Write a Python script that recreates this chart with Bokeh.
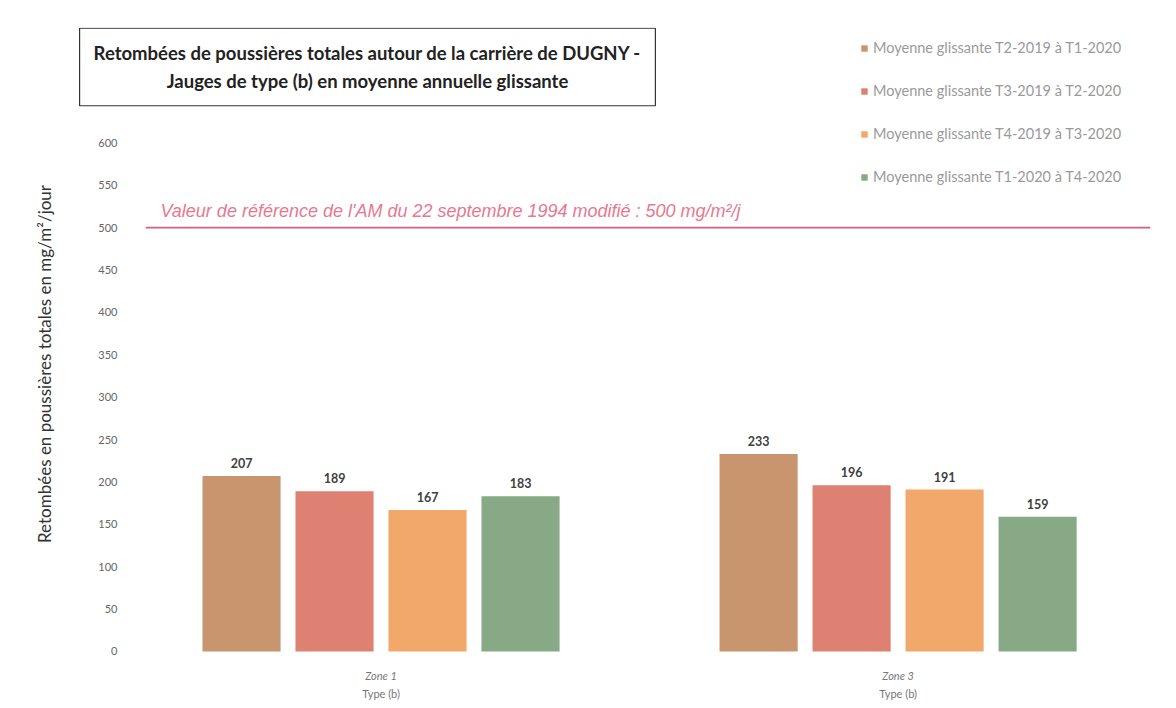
from bokeh.plotting import figure
from bokeh.models import Range1d, FixedTicker, Label, Legend, LegendItem
from bokeh.core.properties import value
from bokeh.embed import file_html
from bokeh.resources import INLINE

# ---- data ----
zones = ["Zone 1", "Zone 3"]
zone_types = ["Type (b)", "Type (b)"]
series = [
    "Moyenne glissante T2-2019 à T1-2020",
    "Moyenne glissante T3-2019 à T2-2020",
    "Moyenne glissante T4-2019 à T3-2020",
    "Moyenne glissante T1-2020 à T4-2020",
]
zone1_values = [207, 189, 167, 183]
zone3_values = [233, 196, 191, 159]
ref_value = 500
ref_text = "Valeur de référence de l'AM du 22 septembre 1994 modifié : 500 mg/m²/j"
y_ticks = [0, 50, 100, 150, 200, 250, 300, 350, 400, 450, 500, 550, 600]
title_text = ("Retombées de poussières totales autour de la carrière de DUGNY -\n"
              "Jauges de type (b) en moyenne annuelle glissante")
y_label = "Retombées en poussières totales en mg/m²/jour"

colors = ["#C9956F", "#DF8172", "#F1A86A", "#88A986"]

# ---- layout helpers (slot positions along a numeric x scale) ----
group_step = len(series) + 1.56
values_by_zone = [zone1_values, zone3_values]
zone_centers = [zi * group_step + (len(series) - 1) / 2 for zi in range(len(zones))]

p = figure(
    width=1168, height=704,
    x_range=Range1d(-1.796, 9.774),
    y_range=Range1d(-57.8, 736),
    output_backend="svg", toolbar_location=None, tools="",
    x_axis_location=None,
    min_border_left=74, min_border_right=18, min_border_top=27, min_border_bottom=4,
)
p.outline_line_color = None
p.grid.visible = False
p.background_fill_color = "white"
p.border_fill_color = "white"

# y axis
ax = p.yaxis[0]
ax.ticker = FixedTicker(ticks=y_ticks)
ax.axis_line_color = None
ax.major_tick_line_color = None
ax.minor_tick_line_color = None
ax.major_label_text_font = "Lato"
ax.major_label_text_font_size = "11px"
ax.major_label_text_color = "#666666"
ax.major_label_standoff = -49
ax.axis_label = y_label
ax.axis_label_text_font = "Lato"
ax.axis_label_text_font_style = "normal"
ax.axis_label_text_font_size = "17px"
ax.axis_label_text_color = "#333333"
ax.axis_label_standoff = 40

# bars
items = []
all_x, all_v = [], []
for i, s in enumerate(series):
    xs = [zi * group_step + i for zi in range(len(zones))]
    tops = [vals[i] for vals in values_by_zone]
    r = p.vbar(x=xs, top=tops, width=0.84, bottom=0, fill_color=colors[i], line_color=None)
    items.append(LegendItem(label=s, renderers=[r]))
    all_x += xs
    all_v += tops

# value labels
p.text(x=all_x, y=all_v, text=[str(v) for v in all_v],
       y_offset=-8, text_align="center", text_baseline="bottom",
       text_font=value("Lato"), text_font_style="bold", text_font_size="12.5px",
       text_color="#404040")

# category labels
p.text(x=zone_centers, y=[-28, -28], text=zones, text_align="center", text_baseline="middle",
       text_font=value("Lato"), text_font_style="italic", text_font_size="11px",
       text_color="#777777")
p.text(x=zone_centers, y=[-49, -49], text=zone_types, text_align="center", text_baseline="middle",
       text_font=value("Lato"), text_font_size="11px", text_color="#777777")

# reference line
p.segment(x0=[-1.03], x1=[9.774], y0=[ref_value], y1=[ref_value],
          line_color="#D6607A", line_width=1.6)
p.add_layout(Label(x=86, x_units="screen", y=ref_value, y_units="data", y_offset=7,
                   text=ref_text, text_font="Liberation Sans", text_font_style="italic",
                   text_font_size="18px", text_color="#E8788F", text_baseline="bottom"))

# title box
p.add_layout(Label(x=293, y=633.5, x_units="screen", y_units="screen", text=title_text,
                   text_align="center", text_baseline="middle",
                   text_font="Lato", text_font_style="bold", text_font_size="18.5px",
                   text_color="#222222", text_line_height=1.25,
                   border_line_color="#333333", border_line_width=1.2,
                   background_fill_color="white", padding=14))

legend = Legend(items=items, location=(786, 515), margin=0, padding=0,
                label_text_font="Lato", label_text_font_size="14.5px",
                label_text_color="#9a9a9a", glyph_width=8, glyph_height=8,
                label_height=16, spacing=26, label_standoff=5,
                background_fill_alpha=0, border_line_color=None)
p.add_layout(legend)

open("out.html", "w").write(file_html(p, INLINE))
